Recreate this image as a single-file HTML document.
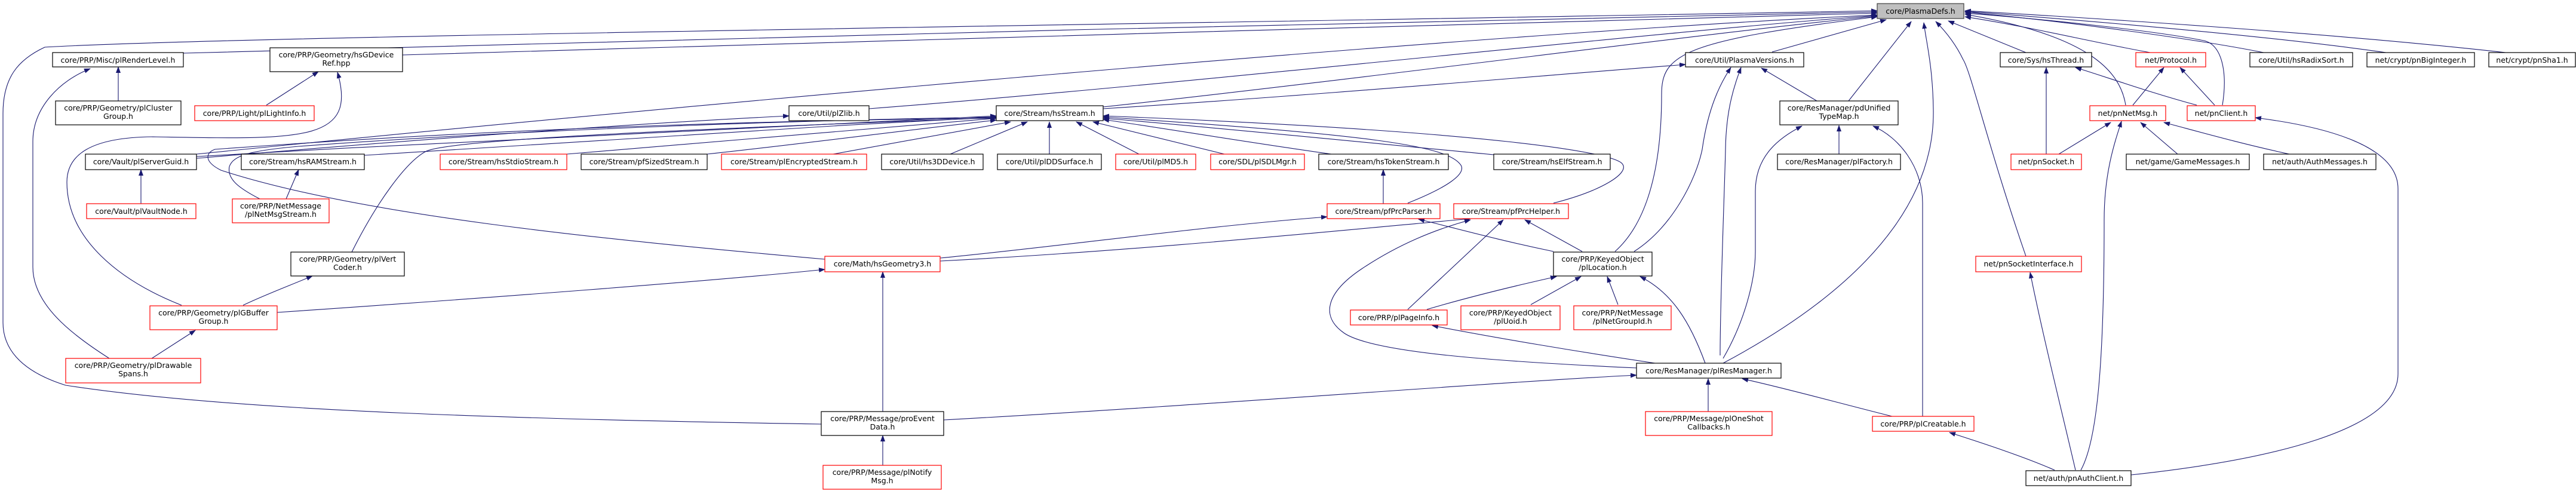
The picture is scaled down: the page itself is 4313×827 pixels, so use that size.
<!DOCTYPE html>
<html><head><meta charset="utf-8"><style>
html,body{margin:0;padding:0;background:#fff;}
svg{display:block;}
text{font-family:"DejaVu Sans","Liberation Sans",sans-serif;font-size:12.5px;fill:#000;text-anchor:middle;}
.e{fill:none;stroke:#191970;stroke-width:1.1;marker-end:url(#a);}
.k{fill:#fff;stroke:#000;stroke-width:1.2;}
.r{fill:#fff;stroke:#ff0000;stroke-width:1.2;}
</style></head><body>
<svg width="4313" height="827" viewBox="0 0 4313 827" xmlns="http://www.w3.org/2000/svg">
<defs><marker id="a" markerWidth="11" markerHeight="8" refX="10" refY="4" orient="auto" markerUnits="userSpaceOnUse"><path d="M0,0 L11,4 L0,8 z" fill="#191970"/></marker></defs>
<path class="e" d="M307,89 C900,70 2400,35 3143,20"/>
<path class="e" d="M674,92 C1200,75 2500,40 3143,22"/>
<path class="e" d="M1375,710 C900,702 400,690 110,645 C30,620 5,580 5,540 L5,190 C5,130 30,100 75,79 C400,60 2000,40 3143,18"/>
<path class="e" d="M329,258 C1000,190 2400,60 3143,25"/>
<path class="e" d="M1847,179 C2300,130 2900,50 3143,27"/>
<path class="e" d="M1455,182 C2000,140 2800,50 3143,26"/>
<path class="e" d="M2967,87 L3158,33"/>
<path class="e" d="M3095,169 L3200,36"/>
<path class="e" d="M2885,608 C3050,520 3240,380 3237,184 C3236,110 3225,70 3221,38"/>
<path class="e" d="M3392,429 C3330,250 3300,120 3287,100 C3275,75 3260,55 3241,36"/>
<path class="e" d="M3392,88 L3262,35"/>
<path class="e" d="M2704,421 C2750,380 2782,300 2782,158 C2782,90 2819,68 3143,28"/>
<path class="e" d="M3559,176 C3550,120 3500,60 3290,24"/>
<path class="e" d="M3600,88 C3500,70 3400,45 3290,28"/>
<path class="e" d="M3721,176 C3730,120 3720,75 3690,68 C3600,50 3400,30 3290,22"/>
<path class="e" d="M3790,88 C3700,70 3500,40 3290,20"/>
<path class="e" d="M3995,88 C3800,60 3500,35 3290,19"/>
<path class="e" d="M4195,88 C3900,55 3500,30 3290,18"/>
<path class="e" d="M329,262 C800,235 1300,210 1668,194"/>
<path class="e" d="M610,260 C900,240 1300,215 1668,196"/>
<path class="e" d="M949,258 C1200,235 1450,215 1668,198"/>
<path class="e" d="M1184,258 C1350,240 1500,220 1668,201"/>
<path class="e" d="M1395,258 L1692,204"/>
<path class="e" d="M1591,258 L1720,204"/>
<path class="e" d="M1757,258 L1757,204"/>
<path class="e" d="M1907,258 L1802,204"/>
<path class="e" d="M2050,258 L1830,204"/>
<path class="e" d="M2229,258 C2100,240 1950,215 1847,200"/>
<path class="e" d="M2501,259 C2300,240 2000,210 1847,198"/>
<path class="e" d="M2357,340 C2420,315 2460,290 2444,274 C2420,245 2300,225 1847,196"/>
<path class="e" d="M2601,340 C2680,320 2730,290 2716,274 C2700,255 2500,220 1847,194"/>
<path class="e" d="M435,333 C400,315 380,300 384,279 C390,260 420,252 500,245 C900,215 1400,200 1668,196"/>
<path class="e" d="M589,422 C630,340 680,270 714,253 C760,232 1200,215 1668,197"/>
<path class="e" d="M1381,434 C1000,400 600,360 370,285 C340,270 345,255 360,250 C900,210 1400,200 1668,198"/>
<path class="e" d="M1847,182 C2200,160 2600,125 2822,108"/>
<path class="e" d="M329,265 C800,225 1100,205 1321,194"/>
<path class="e" d="M198,169 L198,112"/>
<path class="e" d="M183,600 C120,560 55,510 55,447 L55,237 C55,180 100,135 151,115"/>
<path class="e" d="M446,176 L533,120"/>
<path class="e" d="M304,511 C200,470 112,400 112,305 C112,260 150,230 256,229 C500,233 600,240 565,121"/>
<path class="e" d="M236,341 L236,284"/>
<path class="e" d="M479,333 L500,284"/>
<path class="e" d="M407,511 C440,495 480,480 523,462"/>
<path class="e" d="M254,600 L327,553"/>
<path class="e" d="M464,523 C800,500 1200,470 1381,451"/>
<path class="e" d="M1478,689 L1478,455"/>
<path class="e" d="M1478,779 L1478,729"/>
<path class="e" d="M1580,703 C2000,680 2500,640 2740,628"/>
<path class="e" d="M1574,432 C1800,410 2000,380 2222,363"/>
<path class="e" d="M1574,437 C1900,420 2200,390 2462,366"/>
<path class="e" d="M2316,341 L2316,284"/>
<path class="e" d="M2601,421 C2500,400 2430,380 2375,367"/>
<path class="e" d="M2649,421 L2553,368"/>
<path class="e" d="M2357,518 L2517,368"/>
<path class="e" d="M2389,518 C2450,500 2530,480 2606,463"/>
<path class="e" d="M2563,510 L2647,463"/>
<path class="e" d="M2709,510 L2691,463"/>
<path class="e" d="M2741,616 C2500,605 2300,590 2251,558 C2210,530 2220,490 2280,450 C2340,410 2400,385 2462,368"/>
<path class="e" d="M2771,608 C2650,590 2500,565 2398,545"/>
<path class="e" d="M2855,608 C2830,540 2800,490 2746,463"/>
<path class="e" d="M2860,689 L2860,634"/>
<path class="e" d="M2736,421 C2800,380 2840,300 2850,250 C2860,180 2880,140 2898,113"/>
<path class="e" d="M2880,595 C2880,500 2888,300 2889,250 C2890,180 2905,140 2915,113"/>
<path class="e" d="M3042,169 L2949,114"/>
<path class="e" d="M2885,600 C2920,540 2939,470 2939,421 L2939,320 C2939,260 2980,230 3017,211"/>
<path class="e" d="M3079,258 L3079,210"/>
<path class="e" d="M3219,697 L3219,340 C3219,280 3180,230 3136,211"/>
<path class="e" d="M3168,697 C3080,675 2990,650 2917,634"/>
<path class="e" d="M3440,787 C3390,765 3320,742 3264,724"/>
<path class="e" d="M3475,787 C3450,680 3420,560 3399,456"/>
<path class="e" d="M3484,787 C3510,740 3523,620 3523,368 C3523,290 3540,240 3552,203"/>
<path class="e" d="M3568,795 C3800,770 4015,720 4015,626 L4015,316 C4015,240 3880,210 3776,197"/>
<path class="e" d="M3426,258 L3426,113"/>
<path class="e" d="M3447,258 L3534,205"/>
<path class="e" d="M3646,258 L3584,205"/>
<path class="e" d="M3833,258 C3750,240 3680,220 3623,205"/>
<path class="e" d="M3571,176 L3623,113"/>
<path class="e" d="M3708,176 L3650,113"/>
<path class="e" d="M3678,176 C3600,155 3530,130 3475,113"/>
<rect x="3143" y="6" width="145" height="25" fill="#bfbfbf" stroke="#404040" stroke-width="1.2"/><text x="3215.5" y="23">core/PlasmaDefs.h</text>
<rect class="k" x="88" y="88" width="219" height="24"/><text x="197.5" y="105">core/PRP/Misc/plRenderLevel.h</text>
<rect class="k" x="452" y="80" width="222" height="40"/><text x="563" y="96">core/PRP/Geometry/hsGDevice</text><text x="563" y="110">Ref.hpp</text>
<rect class="k" x="93" y="169" width="210" height="40"/><text x="198" y="185">core/PRP/Geometry/plCluster</text><text x="198" y="199">Group.h</text>
<rect class="r" x="326" y="177" width="200" height="25"/><text x="426" y="194">core/PRP/Light/plLightInfo.h</text>
<rect class="k" x="143" y="258" width="186" height="26"/><text x="236" y="275">core/Vault/plServerGuid.h</text>
<rect class="k" x="404" y="258" width="206" height="26"/><text x="507" y="275">core/Stream/hsRAMStream.h</text>
<rect class="r" x="145" y="341" width="183" height="25"/><text x="236.5" y="358">core/Vault/plVaultNode.h</text>
<rect class="r" x="389" y="333" width="162" height="40"/><text x="470" y="349">core/PRP/NetMessage</text><text x="470" y="363">/plNetMsgStream.h</text>
<rect class="k" x="487" y="422" width="190" height="40"/><text x="582" y="438">core/PRP/Geometry/plVert</text><text x="582" y="452">Coder.h</text>
<rect class="r" x="251" y="512" width="213" height="40"/><text x="357.5" y="528">core/PRP/Geometry/plGBuffer</text><text x="357.5" y="542">Group.h</text>
<rect class="r" x="110" y="600" width="226" height="41"/><text x="223" y="616">core/PRP/Geometry/plDrawable</text><text x="223" y="630">Spans.h</text>
<rect class="k" x="1321" y="177" width="134" height="25"/><text x="1388" y="194">core/Util/plZlib.h</text>
<rect class="r" x="737" y="258" width="212" height="26"/><text x="843" y="275">core/Stream/hsStdioStream.h</text>
<rect class="k" x="973" y="258" width="211" height="26"/><text x="1078.5" y="275">core/Stream/pfSizedStream.h</text>
<rect class="r" x="1208" y="258" width="243" height="26"/><text x="1329.5" y="275">core/Stream/plEncryptedStream.h</text>
<rect class="r" x="1381" y="429" width="193" height="26"/><text x="1477.5" y="446">core/Math/hsGeometry3.h</text>
<rect class="k" x="1375" y="689" width="205" height="40"/><text x="1477.5" y="705">core/PRP/Message/proEvent</text><text x="1477.5" y="719">Data.h</text>
<rect class="r" x="1378" y="779" width="198" height="40"/><text x="1477" y="795">core/PRP/Message/plNotify</text><text x="1477" y="809">Msg.h</text>
<rect class="k" x="1668" y="177" width="179" height="25"/><text x="1757.5" y="194">core/Stream/hsStream.h</text>
<rect class="k" x="1476" y="258" width="170" height="26"/><text x="1561" y="275">core/Util/hs3DDevice.h</text>
<rect class="k" x="1670" y="258" width="174" height="26"/><text x="1757" y="275">core/Util/plDDSurface.h</text>
<rect class="r" x="1868" y="258" width="134" height="26"/><text x="1935" y="275">core/Util/plMD5.h</text>
<rect class="r" x="2027" y="258" width="157" height="26"/><text x="2105.5" y="275">core/SDL/plSDLMgr.h</text>
<rect class="k" x="2208" y="258" width="217" height="26"/><text x="2316.5" y="275">core/Stream/hsTokenStream.h</text>
<rect class="k" x="2501" y="258" width="195" height="26"/><text x="2598.5" y="275">core/Stream/hsElfStream.h</text>
<rect class="r" x="2222" y="341" width="189" height="25"/><text x="2316.5" y="358">core/Stream/pfPrcParser.h</text>
<rect class="r" x="2434" y="341" width="192" height="25"/><text x="2530" y="358">core/Stream/pfPrcHelper.h</text>
<rect class="k" x="2601" y="422" width="165" height="40"/><text x="2683.5" y="438">core/PRP/KeyedObject</text><text x="2683.5" y="452">/plLocation.h</text>
<rect class="r" x="2261" y="519" width="162" height="25"/><text x="2342" y="536">core/PRP/plPageInfo.h</text>
<rect class="r" x="2446" y="512" width="166" height="40"/><text x="2529" y="528">core/PRP/KeyedObject</text><text x="2529" y="542">/plUoid.h</text>
<rect class="r" x="2635" y="512" width="163" height="40"/><text x="2716.5" y="528">core/PRP/NetMessage</text><text x="2716.5" y="542">/plNetGroupId.h</text>
<rect class="k" x="2740" y="608" width="242" height="25"/><text x="2861" y="625">core/ResManager/plResManager.h</text>
<rect class="r" x="2755" y="689" width="212" height="40"/><text x="2861" y="705">core/PRP/Message/plOneShot</text><text x="2861" y="719">Callbacks.h</text>
<rect class="k" x="2822" y="88" width="198" height="24"/><text x="2921" y="105">core/Util/PlasmaVersions.h</text>
<rect class="k" x="2980" y="169" width="198" height="40"/><text x="3079" y="185">core/ResManager/pdUnified</text><text x="3079" y="199">TypeMap.h</text>
<rect class="k" x="2976" y="258" width="206" height="26"/><text x="3079" y="275">core/ResManager/plFactory.h</text>
<rect class="k" x="3349" y="88" width="153" height="24"/><text x="3425.5" y="105">core/Sys/hsThread.h</text>
<rect class="r" x="3499" y="177" width="127" height="25"/><text x="3562.5" y="194">net/pnNetMsg.h</text>
<rect class="r" x="3367" y="258" width="118" height="26"/><text x="3426" y="275">net/pnSocket.h</text>
<rect class="r" x="3308" y="429" width="177" height="26"/><text x="3396.5" y="446">net/pnSocketInterface.h</text>
<rect class="r" x="3135" y="697" width="170" height="25"/><text x="3220" y="714">core/PRP/plCreatable.h</text>
<rect class="k" x="3392" y="788" width="176" height="25"/><text x="3480" y="805">net/auth/pnAuthClient.h</text>
<rect class="r" x="3576" y="88" width="117" height="24"/><text x="3634.5" y="105">net/Protocol.h</text>
<rect class="k" x="3560" y="258" width="206" height="26"/><text x="3663" y="275">net/game/GameMessages.h</text>
<rect class="r" x="3662" y="177" width="114" height="25"/><text x="3719" y="194">net/pnClient.h</text>
<rect class="k" x="3790" y="258" width="188" height="26"/><text x="3884" y="275">net/auth/AuthMessages.h</text>
<rect class="k" x="3767" y="88" width="172" height="24"/><text x="3853" y="105">core/Util/hsRadixSort.h</text>
<rect class="k" x="3963" y="88" width="180" height="24"/><text x="4053" y="105">net/crypt/pnBigInteger.h</text>
<rect class="k" x="4167" y="88" width="145" height="24"/><text x="4239.5" y="105">net/crypt/pnSha1.h</text>
</svg>
</body></html>
